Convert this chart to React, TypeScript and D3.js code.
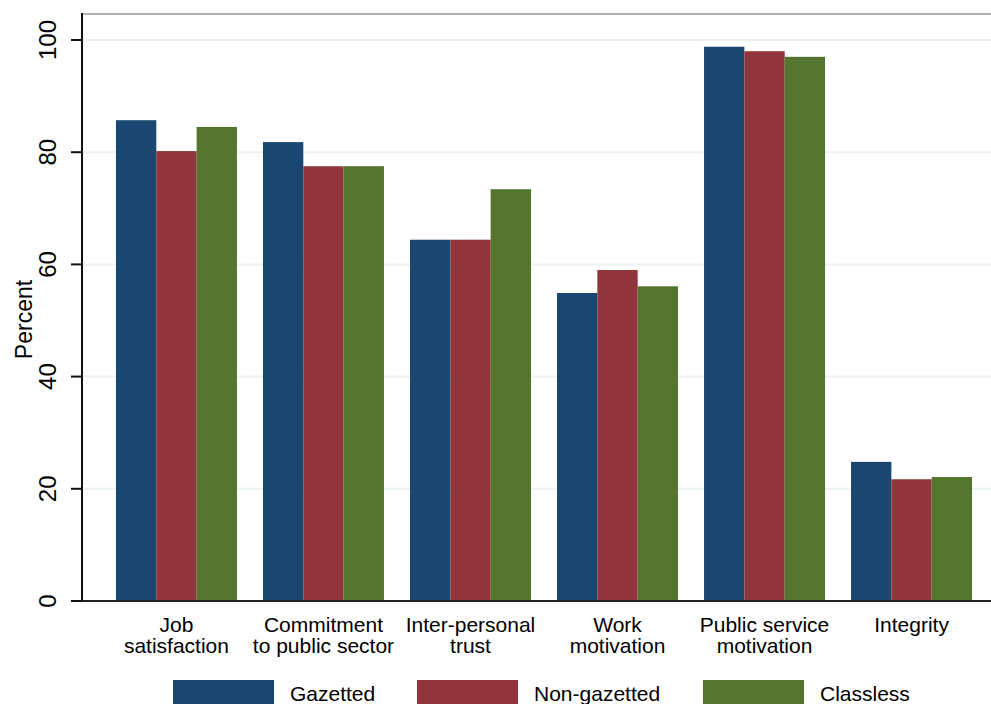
import React from "react";
import * as d3 from "d3";

const categories: string[][] = [
  ["Job", "satisfaction"],
  ["Commitment", "to public sector"],
  ["Inter-personal", "trust"],
  ["Work", "motivation"],
  ["Public service", "motivation"],
  ["Integrity"],
];
const categoryKeys = ["job", "commit", "trust", "work", "psm", "integrity"];
const seriesNames = ["Gazetted", "Non-gazetted", "Classless"];
const gazetted = [85.7, 81.8, 64.4, 54.9, 98.8, 24.8];
const nonGazetted = [80.2, 77.5, 64.4, 59.0, 98.0, 21.7];
const classless = [84.5, 77.5, 73.4, 56.1, 97.0, 22.1];
const yTicks = [0, 20, 40, 60, 80, 100];
const colors = ["#1a476f", "#90353b", "#55752f"];

const W = 991;
const H = 704;
const FONT = "'Liberation Sans', Arial, Helvetica, sans-serif";

export default function App() {
  const left = 82;
  const top = 14;
  const bottom = 601;
  const y = d3.scaleLinear().domain([0, 100]).range([bottom, 40]);
  const x = d3
    .scaleBand<string>()
    .domain(categoryKeys)
    .range([left, 1006])
    .paddingInner(0.177)
    .paddingOuter(0.231);
  const xi = d3
    .scaleBand<string>()
    .domain(seriesNames)
    .range([0, x.bandwidth()])
    .padding(0);
  const series = [gazetted, nonGazetted, classless];

  const legendX = [173, 417, 703];

  return (
    <svg
      width={W}
      height={H}
      style={{ position: "absolute", left: 0, top: 0, background: "#fff" }}
      fontFamily={FONT}
    >
      <rect x={0} y={0} width={W} height={H} fill="#fff" />
      {/* gridlines */}
      {yTicks
        .filter((t) => t > 0)
        .map((t) => (
          <line
            key={"g" + t}
            x1={left}
            x2={W}
            y1={y(t)}
            y2={y(t)}
            stroke="#eaf2f3"
            strokeWidth={2}
          />
        ))}
      {/* bars */}
      {categoryKeys.map((k, ci) =>
        series.map((s, si) => (
          <rect
            key={k + si}
            x={(x(k) as number) + (xi(seriesNames[si]) as number)}
            y={y(s[ci])}
            width={xi.bandwidth()}
            height={bottom - y(s[ci])}
            fill={colors[si]}
          />
        ))
      )}
      {/* frame top */}
      <line x1={left} x2={W} y1={top} y2={top} stroke="#999" strokeWidth={1.5} />
      {/* axes */}
      <line x1={left} x2={W} y1={bottom} y2={bottom} stroke="#222" strokeWidth={2} />
      <line x1={left} x2={left} y1={top - 1} y2={bottom + 1} stroke="#111" strokeWidth={2} />
      {yTicks.map((t) => (
        <g key={"t" + t}>
          <line x1={left - 11} x2={left} y1={y(t)} y2={y(t)} stroke="#111" strokeWidth={2} />
          <text
            transform={`translate(56,${y(t)}) rotate(-90)`}
            textAnchor="middle"
            fontSize={24}
            fill="#000"
          >
            {t}
          </text>
        </g>
      ))}
      <text
        transform={`translate(32,${y(50) - 1}) rotate(-90)`}
        textAnchor="middle"
        fontSize={23}
        fill="#000"
      >
        Percent
      </text>
      {/* category labels */}
      {categoryKeys.map((k, ci) =>
        categories[ci].map((line, li) => (
          <text
            key={k + "l" + li}
            x={(x(k) as number) + x.bandwidth() / 2}
            y={632 + li * 21}
            textAnchor="middle"
            fontSize={21}
            fill="#000"
          >
            {line}
          </text>
        ))
      )}
      {/* legend */}
      {seriesNames.map((n, i) => (
        <g key={"lg" + n}>
          <rect x={legendX[i]} y={680} width={101} height={30} fill={colors[i]} />
          <text x={legendX[i] + 117} y={701} fontSize={21} fill="#000">
            {n}
          </text>
        </g>
      ))}
    </svg>
  );
}
